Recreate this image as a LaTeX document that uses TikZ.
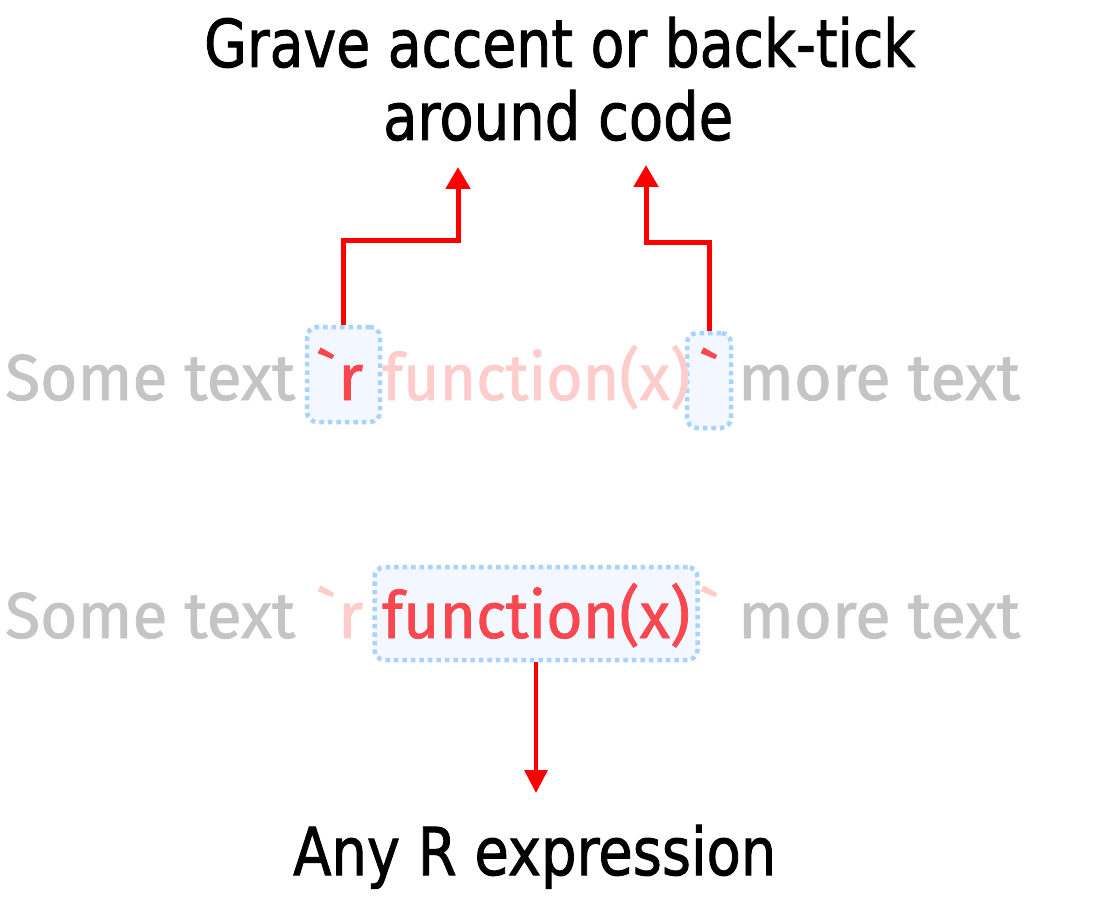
\documentclass[tikz,border=0pt]{standalone}
\usepackage{fontspec}
\usepackage{graphicx}
\usetikzlibrary{arrows.meta}
\newfontfamily\ubfont{Fira Sans}[Ligatures=TeXOff,FakeBold=1.2]
\newfontfamily\tahfont{DejaVu Sans}[FakeBold=1.5]
\definecolor{txtgray}{HTML}{C4C4C4}
\definecolor{txtpink}{HTML}{FFCCCC}
\definecolor{txtred}{HTML}{F8474F}
\definecolor{arrowred}{HTML}{FF0000}
\definecolor{boxline}{HTML}{A9D3FF}
\definecolor{boxfill}{HTML}{F3F7FF}
\newcommand\fitto[2]{\resizebox{#1}{\height}{#2}}
\begin{document}
\begin{tikzpicture}[x=1pt,y=-1pt,
  codetext/.style={anchor=base west, inner sep=0pt, font=\ubfont\fontsize{65}{78}\selectfont},
  titletext/.style={anchor=base west, inner sep=0pt, font=\tahfont\fontsize{66}{79}\selectfont},
  codebox/.style={draw=boxline, fill=boxfill, line width=4.5pt, dash pattern=on 4.5pt off 4pt,
    rounded corners=10pt, inner sep=0pt, rectangle},
  redarrow/.style={draw=arrowred, line width=5pt, -{Triangle[width=24pt,length=22pt]}},
  redarrowthin/.style={draw=arrowred, line width=3.5pt, -{Triangle[width=23pt,length=23pt]}}]
\useasboundingbox[fill=white] (0,0) rectangle (1103,904);

% boxes
\node[codebox, minimum width=73pt, minimum height=95pt] (box1) at (343.5,374.5) {};
\node[codebox, minimum width=44pt, minimum height=95pt] (box2) at (709,380.5) {};
\node[codebox, minimum width=323pt, minimum height=93pt] (box3) at (536,613.5) {};

% titles
\node[titletext] (title1) at (204,67) {\fitto{711pt}{Grave accent or back-tick}};
\node[titletext] (title2) at (383,140) {\fitto{350pt}{around code}};
\node[titletext] (bottom) at (293,875) {\fitto{483pt}{Any R expression}};

% row 1
\node[codetext, text=txtgray] (r1a) at (5,400) {\fitto{290pt}{Some text}};
\node[codetext, text=txtred] (r1b) at (316,400) {\char96};
\node[codetext, text=txtred] (r1c) at (338,400) {r};
\node[codetext, text=txtpink] (r1d) at (382,400) {\fitto{308pt}{function(x)}};
\node[codetext, text=txtred] (r1e) at (699,400) {\char96};
\node[codetext, text=txtgray] (r1f) at (738,400) {\fitto{282pt}{more text}};

% row 2
\node[codetext, text=txtgray] (r2a) at (5,638) {\fitto{290pt}{Some text}};
\node[codetext, text=txtpink] (r2b) at (316,638) {\char96};
\node[codetext, text=txtpink] (r2c) at (338,638) {r};
\node[codetext, text=txtred] (r2d) at (382,638) {\fitto{308pt}{function(x)}};
\node[codetext, text=txtpink] (r2e) at (699,638) {\char96};
\node[codetext, text=txtgray] (r2f) at (738,638) {\fitto{282pt}{more text}};

% arrow ends
\coordinate (tipL) at (458,167);
\coordinate (tipR) at (646,165);
\coordinate (tipB) at (536,793);

\draw[redarrow] (box1.north) -- ++(0,-84) -| (tipL);
\draw[redarrow] (box2.north) -- ++(0,-88) -| (tipR);
\draw[redarrowthin] (box3.south) -- (tipB);
\end{tikzpicture}
\end{document}
